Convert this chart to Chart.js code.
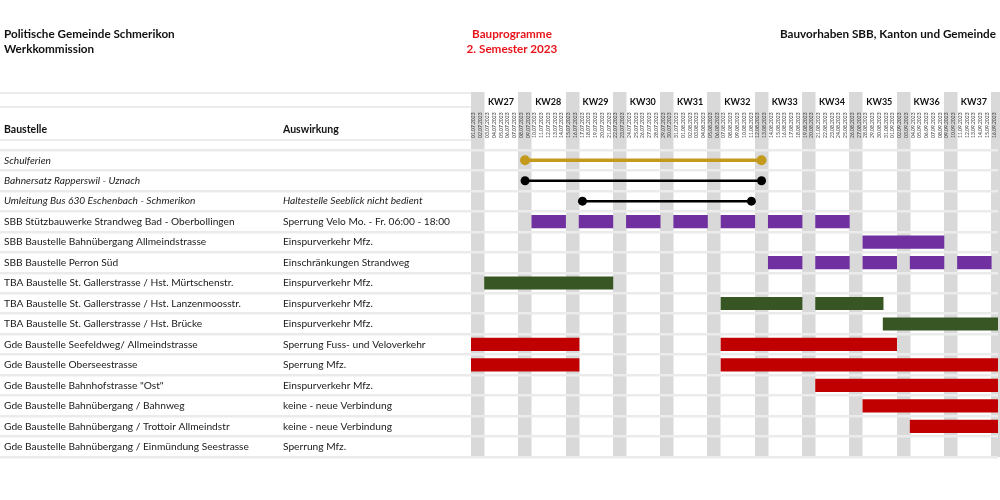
<!DOCTYPE html>
<html>
<head>
<meta charset="utf-8">
<script src="https://cdn.jsdelivr.net/npm/chart.js@4/dist/chart.umd.min.js"></script>
<style>
  body { margin: 0; background: #fff; }
  #wrap { position: relative; width: 1000px; height: 500px; font-family: Lato, sans-serif; color: #111; }
  #wrap canvas { position: absolute; left: 0; top: 0; }
  .t { position: absolute; font-weight: bold; font-size: 11.7px; line-height: 15px; white-space: nowrap; }
  .h { position: absolute; font-weight: bold; font-size: 10.5px; white-space: nowrap; }
  .hl { position: absolute; left: 0; width: 471px; height: 2px; background: #ececec; }
</style>
</head>
<body>
<div id="wrap">
  <canvas id="c" width="1000" height="500"></canvas>
  <div class="hl" style="top:92px"></div>
  <div class="hl" style="top:106px"></div>
  <div class="hl" style="top:139px"></div>
  <div class="t" style="left:4px;top:26px">Politische Gemeinde Schmerikon<br>Werkkommission</div>
  <div class="t" style="left:412px;width:200px;top:26px;text-align:center;color:#e8141c">Bauprogramme<br>2. Semester 2023</div>
  <div class="t" style="right:4px;top:26px">Bauvorhaben SBB, Kanton und Gemeinde</div>
  <div class="h" style="left:4px;top:123px">Baustelle</div>
  <div class="h" style="left:283px;top:123px">Auswirkung</div>
</div>
<script>
// rows of the table
const baustellen = [
  'Schulferien',
  'Bahnersatz Rapperswil - Uznach',
  'Umleitung Bus 630 Eschenbach - Schmerikon',
  'SBB Stützbauwerke Strandweg Bad - Oberbollingen',
  'SBB Baustelle Bahnübergang Allmeindstrasse',
  'SBB Baustelle Perron Süd',
  'TBA Baustelle St. Gallerstrasse / Hst. Mürtschenstr.',
  'TBA Baustelle St. Gallerstrasse / Hst. Lanzenmoosstr.',
  'TBA Baustelle St. Gallerstrasse / Hst. Brücke',
  'Gde Baustelle Seefeldweg/ Allmeindstrasse',
  'Gde Baustelle Oberseestrasse',
  'Gde Baustelle Bahnhofstrasse "Ost"',
  'Gde Baustelle Bahnübergang / Bahnweg',
  'Gde Baustelle Bahnübergang / Trottoir Allmeindstr',
  'Gde Baustelle Bahnübergang / Einmündung Seestrasse'
];
const auswirkungen = [
  '', '', 'Haltestelle Seeblick nicht bedient',
  'Sperrung Velo Mo. - Fr. 06:00 - 18:00',
  'Einspurverkehr Mfz.',
  'Einschränkungen Strandweg',
  'Einspurverkehr Mfz.', 'Einspurverkehr Mfz.', 'Einspurverkehr Mfz.',
  'Sperrung Fuss- und Veloverkehr',
  'Sperrung Mfz.',
  'Einspurverkehr Mfz.',
  'keine - neue Verbindung', 'keine - neue Verbindung',
  'Sperrung Mfz.'
];
const weeks = ['KW27', 'KW28', 'KW29', 'KW30', 'KW31', 'KW32', 'KW33', 'KW34', 'KW35', 'KW36', 'KW37'];
const dayCount = 78; // 01.07.2023 - 16.09.2023

// days counted from 01.07.2023
const schulferien = [8, 43];
const bahnersatz = [8, 43];
const umleitung = [16.5, 41.5];
// [row, from, to]
const sbbBars = [
  [3, 9, 14], [3, 16, 21], [3, 23, 28], [3, 30, 35], [3, 37, 42], [3, 44, 49], [3, 51, 56],
  [4, 58, 70],
  [5, 44, 49], [5, 51, 56], [5, 58, 63], [5, 65, 70], [5, 72, 77]
];
const tbaBars = [[6, 2, 21], [7, 37, 49], [7, 51, 61], [8, 61, 78]];
const gdeBars = [[9, 0, 16], [9, 37, 63], [10, 0, 16], [10, 37, 78], [11, 51, 78], [12, 58, 78], [13, 65, 78]];

const dayLabels = [];
const weekends = [];
for (let i = 0; i < dayCount; i++) {
  const d = new Date(2023, 6, 1 + i);
  dayLabels.push(String(d.getDate()).padStart(2, '0') + '.' + String(d.getMonth() + 1).padStart(2, '0') + '.' + d.getFullYear());
  if (d.getDay() === 6) weekends.push(i + 1);
}

const FONT = 'Lato, sans-serif';

function lineSet(span, row, color, width, radius) {
  return {
    type: 'line',
    data: span.map(v => ({ x: v, y: baustellen[row] })),
    borderColor: color, backgroundColor: color,
    borderWidth: width, pointRadius: radius, pointBorderWidth: 0,
    pointBackgroundColor: color
  };
}
function barSet(bars, color) {
  return {
    type: 'bar',
    data: bars.map(([r, a, b]) => ({ y: baustellen[r], x: [a, b] })),
    backgroundColor: color, borderWidth: 0, grouped: false, barThickness: 12.5
  };
}

const rowFont = c => ({ family: FONT, size: 10.2, style: c.index < 3 ? 'italic' : 'normal' });
// no side padding for the header axes, the day grid runs to the edge
const noPad = s => { s.paddingLeft = 0; s.paddingRight = 0; };

new Chart(document.getElementById('c'), {
  type: 'bar',
  data: {
    datasets: [
      lineSet(schulferien, 0, '#c49a1c', 3.5, 5),
      lineSet(bahnersatz, 1, '#000', 2.5, 4.5),
      lineSet(umleitung, 2, '#000', 2.5, 4.5),
      barSet(sbbBars, '#7030a0'),
      barSet(tbaBars, '#375623'),
      barSet(gdeBars, '#c00000')
    ]
  },
  options: {
    indexAxis: 'y',
    responsive: false,
    animation: false,
    layout: { autoPadding: false, padding: { left: 4, right: 2, top: 92, bottom: 43 } },
    plugins: { legend: { display: false }, tooltip: { enabled: false } },
    scales: {
      x: {
        type: 'linear', position: 'top', min: 0, max: dayCount, weight: 0,
        afterBuildTicks: s => { s.ticks = weekends.map(v => ({ value: v })); },
        afterFit: s => { s.height = 0; noPad(s); },
        ticks: { display: false },
        border: { display: false },
        grid: { color: '#d9d9d9', lineWidth: c => c.scale.width / dayCount * 2, tickLength: 58, z: -2 }
      },
      days: {
        type: 'linear', position: 'top', min: 0, max: dayCount, weight: 1,
        afterBuildTicks: s => { s.ticks = dayLabels.map((_, i) => ({ value: i + 0.5 })); },
        afterFit: s => { s.height = 40; noPad(s); },
        border: { display: false },
        grid: { display: false, drawTicks: false },
        ticks: {
          autoSkip: false, minRotation: 90, maxRotation: 90, padding: 12,
          color: '#333', font: { family: FONT, size: 5, lineHeight: 0.1 },
          callback: (v, i) => dayLabels[i]
        }
      },
      kw: {
        type: 'linear', position: 'top', min: 0, max: dayCount, weight: 2,
        afterBuildTicks: s => { s.ticks = weeks.map((_, i) => ({ value: 2.5 + 7 * i })); },
        afterFit: s => { s.height = 18; noPad(s); },
        border: { display: false },
        grid: { display: false, drawTicks: false },
        ticks: {
          autoSkip: false, maxRotation: 0, align: 'start', padding: 3,
          color: '#111', font: { family: FONT, size: 9, weight: 'bold' },
          callback: (v, i) => weeks[i]
        }
      },
      y: {
        type: 'category', position: 'left', labels: baustellen, offset: true, weight: 2,
        afterFit: s => { s.width = 279; },
        border: { display: false },
        grid: { offset: true, color: '#ebebeb', lineWidth: 2.5, tickLength: 283 },
        ticks: { crossAlign: 'far', color: '#1a1a1a', font: rowFont }
      },
      y2: {
        type: 'category', position: 'left', labels: auswirkungen, offset: true, weight: 1,
        afterFit: s => { s.width = 188; },
        border: { display: false },
        grid: { offset: true, color: '#ebebeb', lineWidth: 2.5, tickLength: 188, drawOnChartArea: false },
        ticks: { crossAlign: 'far', color: '#1a1a1a', font: rowFont }
      }
    }
  }
});
</script>
</body>
</html>
